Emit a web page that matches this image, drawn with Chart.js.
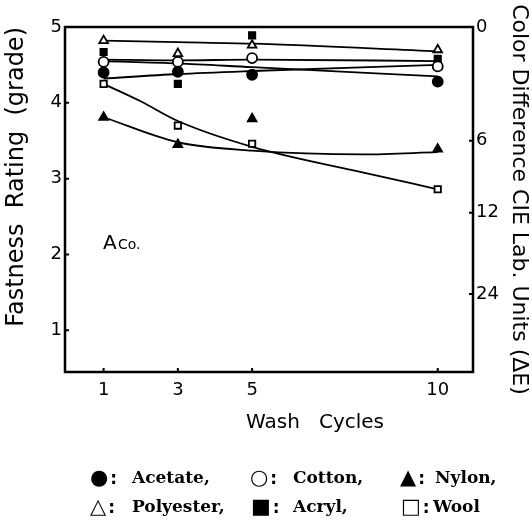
<!DOCTYPE html>
<html>
<head>
<meta charset="utf-8">
<script src="https://cdn.jsdelivr.net/npm/chart.js"></script>
<style>
  body { margin: 0; background: #fff; }
  #wrap { position: relative; width: 532px; height: 520px; }
  .leg { position: absolute; font-family: "DejaVu Serif", serif; font-weight: bold; font-size: 17px; color: #000; white-space: nowrap; line-height: 20px; }
  .sym { position: absolute; font-family: "DejaVu Sans", sans-serif; font-size: 21px; color: #000; white-space: nowrap; line-height: 20px; }
  .sym b { font-size: 17px; font-weight: bold; margin-left: 2px; }
</style>
</head>
<body>
<div id="wrap">
  <canvas id="washChart" width="532" height="520"></canvas>
  <div class="sym" style="left:90px; top:467px">●<b>:</b></div><div class="leg" style="left:132px; top:467px">Acetate,</div>
  <div class="sym" style="left:250px; top:467px">○<b>:</b></div><div class="leg" style="left:293px; top:467px">Cotton,</div>
  <div class="sym" style="left:400px; top:467px">▲<b>:</b></div><div class="leg" style="left:435px; top:467px">Nylon,</div>
  <div class="sym" style="left:90px; top:496px">△<b>:</b></div><div class="leg" style="left:132px; top:496px">Polyester,</div>
  <div class="sym" style="left:251px; top:496px">■<b>:</b></div><div class="leg" style="left:293px; top:496px">Acryl,</div>
  <div class="sym" style="left:401px; top:496px">□<b>:</b></div><div class="leg" style="left:433px; top:496px">Wool</div>
</div>
<script>
// measured points (grade) per fibre at each wash cycle
var cycles = [1, 3, 5, 10];
var acetate = [4.40, 4.41, 4.37, 4.28];
var cotton = [4.54, 4.54, 4.59, 4.48];
var nylon = [3.81, 3.45, 3.79, 3.39];
var polyester = [4.82, 4.65, 4.76, 4.70];
var acryl = [4.67, 4.25, 4.89, 4.58];
var wool = [4.25, 3.70, 3.46, 2.86];

// hand drawn trend curves
var fitCycles = [1, 3, 5, 10];
var polyesterFit = [4.82, 4.80, 4.78, 4.68];
var cottonFit = [4.57, 4.56, 4.57, 4.55];
var acrylFit = [4.55, 4.52, 4.47, 4.35];
var acetateFit = [4.32, 4.38, 4.42, 4.50];
var nylonFitCycles = [1, 3, 5, 8, 10];
var nylonFit = [3.81, 3.48, 3.37, 3.32, 3.35];
var woolFitCycles = [1, 2, 3, 5, 8, 10];
var woolFit = [4.25, 4.02, 3.76, 3.42, 3.08, 2.86];

// axis ticks
var cycleTicks = [1, 3, 5, 10];
var gradeTicks = [1, 2, 3, 4, 5];
var deltaETicks = [0, 6, 12, 24];
var deltaEGrades = [5, 3.5, 2.55, 1.48];

function pairs(xs, ys) {
    return xs.map(function (x, i) { return { x: x, y: ys[i] }; });
}

function markerSet(label, values, style, filled) {
    return {
        label: label,
        data: pairs(cycles, values),
        showLine: false,
        pointStyle: style,
        pointRadius: style === 'rect' ? 4.5 : 5,
        pointBackgroundColor: filled ? '#000' : '#fff',
        pointBorderColor: '#000',
        pointBorderWidth: 1.8,
        order: 0
    };
}

function fitLine(xs, values) {
    return {
        label: '',
        data: pairs(xs, values),
        showLine: true,
        borderColor: '#000',
        borderWidth: 1.8,
        pointRadius: 0,
        cubicInterpolationMode: 'monotone',
        fill: false,
        order: 1
    };
}

// frame, inward ticks and loose labels
var framePlugin = {
    id: 'frame',
    afterDraw: function (chart) {
        var ctx = chart.ctx, a = chart.chartArea;
        var sx = chart.scales.x, sy = chart.scales.y, sy2 = chart.scales.y2;
        ctx.save();
        ctx.strokeStyle = '#000';
        ctx.lineWidth = 2.5;
        ctx.strokeRect(a.left, a.top, a.right - a.left, a.bottom - a.top);
        ctx.lineWidth = 2;
        ctx.beginPath();
        gradeTicks.forEach(function (v) {
            var p = sy.getPixelForValue(v);
            ctx.moveTo(a.left, p); ctx.lineTo(a.left + 4, p);
        });
        deltaEGrades.forEach(function (v) {
            var p = sy2.getPixelForValue(v);
            ctx.moveTo(a.right, p); ctx.lineTo(a.right - 4, p);
        });
        cycleTicks.forEach(function (v) {
            var p = sx.getPixelForValue(v);
            ctx.moveTo(p, a.bottom); ctx.lineTo(p, a.bottom - 4);
        });
        ctx.stroke();

        ctx.fillStyle = '#000';
        ctx.textBaseline = 'middle';
        ctx.textAlign = 'center';
        ctx.font = '20px "DejaVu Sans"';
        ctx.fillText('Wash   Cycles', (a.left + a.right) / 2 + 46, a.bottom + 51);

        ctx.textAlign = 'left';
        ctx.textBaseline = 'alphabetic';
        ctx.font = '20px "DejaVu Sans"';
        ctx.fillText('A', a.left + 38, 249);
        ctx.font = '14px "DejaVu Sans"';
        ctx.fillText('Co.', a.left + 53, 249);
        ctx.restore();
    }
};

function buildChart() {
    var tickFont = { family: 'DejaVu Sans', size: 18 };
    var ctx = document.getElementById('washChart').getContext('2d');
    new Chart(ctx, {
        type: 'scatter',
        plugins: [framePlugin],
        data: {
            datasets: [
                markerSet('Acetate', acetate, 'circle', true),
                markerSet('Cotton', cotton, 'circle', false),
                markerSet('Nylon', nylon, 'triangle', true),
                markerSet('Polyester', polyester, 'triangle', false),
                markerSet('Acryl', acryl, 'rect', true),
                markerSet('Wool', wool, 'rect', false),
                fitLine(fitCycles, polyesterFit),
                fitLine(fitCycles, cottonFit),
                fitLine(fitCycles, acrylFit),
                fitLine(fitCycles, acetateFit),
                fitLine(nylonFitCycles, nylonFit),
                fitLine(woolFitCycles, woolFit)
            ]
        },
        options: {
            responsive: false,
            animation: false,
            layout: { padding: { top: 27, left: 0, right: 0, bottom: 0 } },
            plugins: { legend: { display: false }, tooltip: { enabled: false } },
            scales: {
                x: {
                    type: 'linear',
                    min: -0.04,
                    max: 10.95,
                    afterBuildTicks: function (s) { s.ticks = cycleTicks.map(function (v) { return { value: v }; }); },
                    afterFit: function (s) { s.height = 148; },
                    grid: { display: false, drawTicks: false },
                    border: { display: false },
                    ticks: { color: '#000', font: tickFont, padding: 8 }
                },
                y: {
                    position: 'left',
                    min: 0.45,
                    max: 5,
                    afterBuildTicks: function (s) { s.ticks = gradeTicks.map(function (v) { return { value: v }; }); },
                    afterFit: function (s) { s.width = 65; },
                    grid: { display: false, drawTicks: false },
                    border: { display: false },
                    ticks: { color: '#000', font: tickFont, padding: 3 },
                    title: {
                        display: true,
                        text: 'Fastness  Rating  (grade)',
                        align: 'end',
                        color: '#000',
                        font: { family: 'DejaVu Sans', size: 24 },
                        padding: { top: 2, bottom: 0 }
                    }
                },
                y2: {
                    position: 'right',
                    min: 0.45,
                    max: 5,
                    afterBuildTicks: function (s) { s.ticks = deltaEGrades.map(function (v) { return { value: v }; }); },
                    afterFit: function (s) { s.width = 59; },
                    grid: { display: false, drawTicks: false },
                    border: { display: false },
                    ticks: {
                        color: '#000',
                        font: tickFont,
                        padding: 3,
                        callback: function (value, index) { return String(deltaETicks[index]); }
                    },
                    title: {
                        display: true,
                        text: 'Color Difference CIE Lab. Units (ΔE)',
                        color: '#000',
                        font: { family: 'DejaVu Sans', size: 22 },
                        padding: { top: 0, bottom: 0 }
                    }
                }
            }
        }
    });
}

document.addEventListener("DOMContentLoaded", function () {
    buildChart();
});
</script>
</body>
</html>
